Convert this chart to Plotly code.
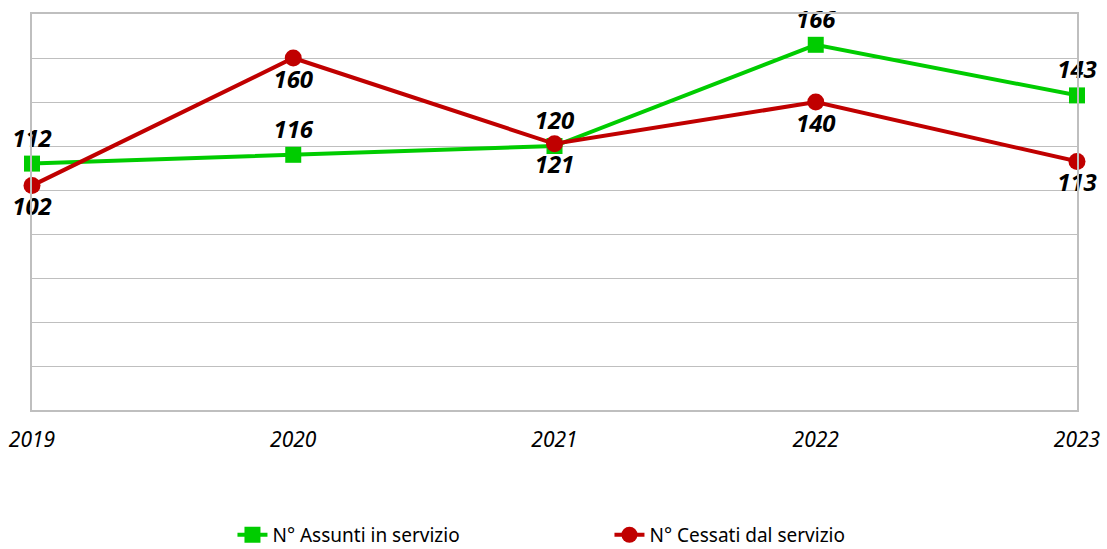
import plotly.graph_objects as go

years = ["2019", "2020", "2021", "2022", "2023"]
assunti = [112, 116, 120, 166, 143]
cessati = [102, 160, 121, 140, 113]
y_ticks = list(range(0, 181, 20))

FONT = "Noto Sans"
xpos = list(range(len(years)))

fig = go.Figure()
fig.add_trace(go.Scatter(
    x=xpos, y=assunti, mode="lines+markers+text", name="N° Assunti in servizio",
    line=dict(color="#00CC00", width=4),
    marker=dict(symbol="square", size=16, color="#00CC00"),
    text=[str(v) for v in assunti], textposition="top center",
    textfont=dict(family=FONT, size=24, color="black", weight="bold", style="italic"),
    cliponaxis=False,
))
fig.add_trace(go.Scatter(
    x=xpos, y=cessati, mode="lines+markers+text", name="N° Cessati dal servizio",
    line=dict(color="#C00000", width=4),
    marker=dict(symbol="circle", size=17, color="#C00000"),
    text=[str(v) for v in cessati], textposition="bottom center",
    textfont=dict(family=FONT, size=24, color="black", weight="bold", style="italic"),
    cliponaxis=False,
))

fig.update_layout(
    width=1107, height=549,
    margin=dict(l=32, r=30, t=14, b=139, autoexpand=False),
    plot_bgcolor="white", paper_bgcolor="white",
    font=dict(family=FONT, color="black"),
    showlegend=True,
    legend=dict(orientation="h", x=0.5526, xanchor="center", y=-0.2675, yanchor="top",
                font=dict(size=19, family=FONT), entrywidth=332, entrywidthmode="pixels"),
)
fig.update_xaxes(
    range=[0, 4], tickmode="array", tickvals=xpos, ticktext=years,
    showgrid=False, showline=True, mirror=True, linecolor="#BFBFBF", linewidth=2,
    tickfont=dict(size=21, family=FONT, style="italic"), ticks="", ticklabelstandoff=10,
    zeroline=False, automargin=False,
)
fig.update_yaxes(
    range=[0, 180], tickmode="array", tickvals=y_ticks, showticklabels=False,
    showgrid=True, gridcolor="#BFBFBF", gridwidth=1,
    showline=True, mirror=True, linecolor="#BFBFBF", linewidth=2, zeroline=False, ticks="",
    automargin=False,
)

fig.write_html("out.html", config={"displayModeBar": False},
               post_script="document.body.style.margin='0';")
